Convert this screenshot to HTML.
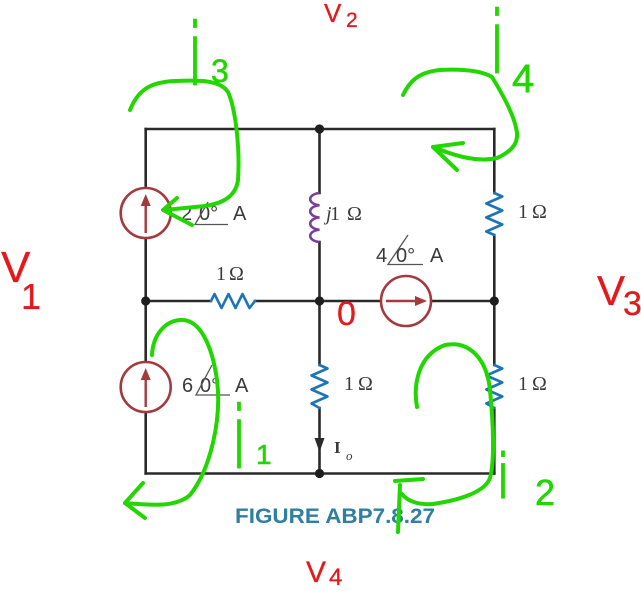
<!DOCTYPE html>
<html>
<head>
<meta charset="utf-8">
<style>
  html,body{margin:0;padding:0;background:#fff;}
  svg{display:block;}
  .lbl{font-family:"Liberation Sans",sans-serif;fill:#3a3a3a;}
  .ser{font-family:"Liberation Serif",serif;fill:#3a3a3a;}
  .red{font-family:"Liberation Sans",sans-serif;fill:#e3191c;stroke:#e3191c;stroke-width:0.3;}
  .grn{font-family:"Liberation Sans",sans-serif;fill:#22d600;stroke:#22d600;stroke-width:0.6;}
</style>
</head>
<body>
<svg width="641" height="591" viewBox="0 0 641 591" xmlns="http://www.w3.org/2000/svg">
  <!-- wires -->
  <g stroke="#2a2a2a" stroke-width="2.6" fill="none" stroke-linecap="square">
    <line x1="145.7" y1="129" x2="494.3" y2="129"/>
    <line x1="145.7" y1="473.5" x2="494.3" y2="473.5"/>
    <line x1="145.7" y1="129" x2="145.7" y2="473.5"/>
    <line x1="319.5" y1="129" x2="319.5" y2="193"/>
    <line x1="319.5" y1="242" x2="319.5" y2="365"/>
    <line x1="319.5" y1="408" x2="319.5" y2="473.5"/>
    <line x1="494.3" y1="129" x2="494.3" y2="193"/>
    <line x1="494.3" y1="235" x2="494.3" y2="365"/>
    <line x1="494.3" y1="408" x2="494.3" y2="473.5"/>
    <line x1="145.7" y1="301" x2="211" y2="301"/>
    <line x1="255" y1="301" x2="494.3" y2="301"/>
  </g>

  <!-- resistors -->
  <g stroke="#1f74b5" stroke-width="2.6" fill="none" stroke-linejoin="round" stroke-linecap="round">
    <polyline points="494.3,193 502.3,196.5 486.3,203.5 502.3,210.5 486.3,217.5 502.3,224.5 486.3,231.5 494.3,235"/>
    <polyline points="494.3,365 502.3,368.5 486.3,375.5 502.3,382.5 486.3,389.5 502.3,396.5 486.3,403.5 494.3,408"/>
    <polyline points="319.5,365 327.5,368.5 311.5,375.5 327.5,382.5 311.5,389.5 327.5,396.5 311.5,403.5 319.5,408"/>
    <polyline points="211,301 214.5,294 221.5,308 228.5,294 235.5,308 242.5,294 249.5,308 255,301"/>
  </g>

  <!-- inductor -->
  <path d="M319.5,193 a11,6.2 0 0 0 0,12.25 a11,6.2 0 0 0 0,12.25 a11,6.2 0 0 0 0,12.25 a11,6.2 0 0 0 0,12.25"
        stroke="#7a3f9d" stroke-width="2.6" fill="none"/>

  <!-- current sources -->
  <g stroke="#a33a3d" stroke-width="2.6" fill="#fff">
    <circle cx="145.7" cy="213" r="25"/>
    <circle cx="145.7" cy="387" r="25"/>
    <circle cx="406" cy="301" r="25"/>
  </g>
  <g stroke="#a33a3d" stroke-width="2.4" fill="#a33a3d">
    <line x1="145.7" y1="233" x2="145.7" y2="204"/>
    <polygon points="145.7,194 140.7,206 150.7,206" stroke="none"/>
    <line x1="145.7" y1="407" x2="145.7" y2="378"/>
    <polygon points="145.7,368 140.7,380 150.7,380" stroke="none"/>
    <line x1="386" y1="301" x2="416" y2="301"/>
    <polygon points="427,301 415,296 415,306" stroke="none"/>
  </g>

  <!-- Io arrow -->
  <polygon points="314.5,438 324.5,438 319.5,452" fill="#2a2a2a"/>

  <!-- nodes -->
  <g fill="#1e1e1e">
    <circle cx="319.5" cy="129" r="4.6"/>
    <circle cx="145.7" cy="301" r="4.6"/>
    <circle cx="319.5" cy="301" r="4.6"/>
    <circle cx="494.3" cy="301" r="4.6"/>
    <circle cx="319.5" cy="473.5" r="4.6"/>
  </g>

  <!-- source labels -->
  <g font-size="20">
    <text class="lbl" x="181" y="220">2</text>
    <text class="lbl" x="199" y="220">0°</text>
    <text class="lbl" x="233" y="220">A</text>
    <text class="lbl" x="182" y="392">6</text>
    <text class="lbl" x="200" y="392">0°</text>
    <text class="lbl" x="235" y="392">A</text>
    <text class="lbl" x="376" y="262">4</text>
    <text class="lbl" x="396" y="262">0°</text>
    <text class="lbl" x="430" y="262">A</text>
  </g>
  <g stroke="#555" stroke-width="1.3" fill="none">
    <polyline points="208,202 195,224.5 228,224.5"/>
    <polyline points="212,365 196,395 230,395"/>
    <polyline points="408,235 388,264.5 423,264.5"/>
  </g>

  <!-- impedance labels -->
  <g font-size="20">
    <text class="ser" x="326" y="220" font-style="italic">j</text>
    <text class="ser" x="330" y="220">1</text>
    <text class="ser" x="347" y="220">Ω</text>
    <text class="ser" x="518" y="218">1</text>
    <text class="ser" x="532" y="218">Ω</text>
    <text class="ser" x="216" y="280">1</text>
    <text class="ser" x="229" y="280">Ω</text>
    <text class="ser" x="344" y="390">1</text>
    <text class="ser" x="358" y="390">Ω</text>
    <text class="ser" x="518" y="390">1</text>
    <text class="ser" x="532" y="390">Ω</text>
  </g>
  <text class="ser" x="334" y="453" font-size="17" font-weight="bold">I</text>
  <text class="ser" x="346" y="460" font-size="13" font-style="italic">o</text>

  <!-- caption -->
  <text x="235" y="523" font-family="Liberation Sans, sans-serif" font-weight="bold" font-size="21"
        fill="#2e7fa0" textLength="200" lengthAdjust="spacingAndGlyphs">FIGURE ABP7.8.27</text>

  <!-- red handwriting -->
  <text class="red" x="324" y="22" font-size="26">V</text>
  <text class="red" x="346" y="27" font-size="21">2</text>
  <text class="red" x="1" y="282" font-size="44">V</text>
  <text class="red" x="21" y="309" font-size="36">1</text>
  <text class="red" x="597" y="305" font-size="42">V</text>
  <text class="red" x="623" y="315" font-size="34">3</text>
  <text class="red" x="306" y="582" font-size="30">V</text>
  <text class="red" x="329" y="585" font-size="24">4</text>
  <text class="red" x="337" y="325" font-size="34">0</text>

  <!-- green loops -->
  <g stroke="#22d600" stroke-width="4" fill="none" stroke-linecap="round" stroke-linejoin="round">
    <path d="M130,110 C138,90 150,82 175,81 C200,80 220,80 228,92 C236,110 240,150 238,180 C236,195 225,203 205,206 L165,210"/>
    <polyline points="177,198 163,210 192,225"/>
    <path d="M403,95 C410,80 420,72 440,70 C460,69 480,70 492,77 C500,90 515,115 517,133 C518,145 510,152 497,158 C480,162 460,158 433,147"/>
    <polyline points="463,143 433,147 457,170"/>
    <path d="M152,355 C153,335 165,320 182,320 C200,320 212,345 217,380 C222,420 210,470 190,495 C175,508 150,505 125,503"/>
    <polyline points="143,483 125,503 145,518"/>
    <path d="M417,407 C413,385 418,355 445,345 C470,340 487,360 490,390 C493,420 495,460 490,478 C485,492 460,500 433,504 C420,505 408,502 402,494"/>
    <line x1="395" y1="481" x2="423" y2="479"/>
    <line x1="398" y1="532" x2="400" y2="485"/>
  </g>

  <!-- green handwriting -->
  <text class="grn" font-size="36" transform="translate(191,85) scale(1,2.5)">i</text>
  <text class="grn" x="211" y="82" font-size="32">3</text>
  <text class="grn" font-size="36" transform="translate(493,73) scale(1,2.5)">i</text>
  <text class="grn" x="512" y="92" font-size="40">4</text>
  <text class="grn" font-size="36" transform="translate(235,468) scale(1,2.5)">i</text>
  <text class="grn" x="256" y="464" font-size="28">1</text>
  <text class="grn" font-size="36" transform="translate(499,498) scale(1,1.8)">i</text>
  <text class="grn" x="535" y="505" font-size="36">2</text>
</svg>
</body>
</html>
